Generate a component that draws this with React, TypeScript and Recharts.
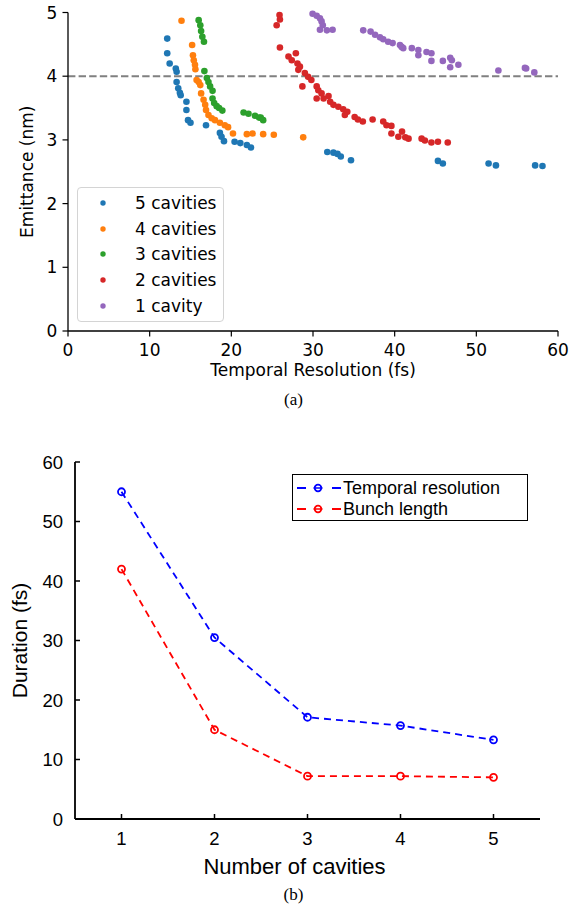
import {
  ScatterChart,
  Scatter,
  LineChart,
  Line,
  XAxis,
  YAxis,
  ReferenceLine,
  Legend,
} from "recharts";

// (a) emittance vs temporal resolution, one array per cavity count: [fs, nm]
const fiveCavities = [
  [12.15, 4.59], [12.15, 4.36], [12.45, 4.2], [13.2, 4.12], [13.3, 4.07], [13.3, 3.91],
  [13.5, 3.81], [13.7, 3.74], [13.8, 3.7], [14.5, 3.6], [14.5, 3.47], [14.7, 3.31],
  [15.0, 3.27], [16.9, 3.23], [18.6, 3.11], [18.8, 3.05], [19.1, 2.98], [20.4, 2.97],
  [21.1, 2.95], [21.9, 2.92], [22.4, 2.88], [31.75, 2.81], [32.5, 2.8], [33.0, 2.78],
  [33.4, 2.74], [34.65, 2.68], [45.3, 2.67], [45.9, 2.63], [51.5, 2.63], [52.4, 2.6],
  [57.2, 2.6], [58.1, 2.59],
];
const fourCavities = [
  [13.9, 4.87], [15.2, 4.49], [15.3, 4.33], [15.4, 4.25], [15.55, 4.18], [15.6, 4.11],
  [15.75, 3.94], [16.0, 3.91], [16.2, 3.86], [16.3, 3.73], [16.6, 3.63], [16.8, 3.55],
  [16.9, 3.47], [17.2, 3.39], [17.6, 3.34], [18.0, 3.31], [18.6, 3.27], [19.2, 3.23],
  [19.6, 3.2], [20.2, 3.1], [21.9, 3.09], [22.6, 3.1], [23.9, 3.09], [25.2, 3.08],
  [28.8, 3.04],
];
const threeCavities = [
  [16.0, 4.88], [16.2, 4.8], [16.3, 4.71], [16.45, 4.62], [16.65, 4.54], [16.7, 4.08],
  [17.0, 3.97], [17.2, 3.91], [17.4, 3.84], [17.7, 3.77], [17.7, 3.65], [17.9, 3.58],
  [18.2, 3.53], [18.5, 3.5], [18.9, 3.46], [21.5, 3.43], [22.1, 3.41], [22.9, 3.38],
  [23.4, 3.35], [23.6, 3.35], [23.9, 3.31],
];
const twoCavities = [
  [25.9, 4.96], [25.95, 4.89], [25.55, 4.8], [25.95, 4.45], [27.9, 4.36], [27.0, 4.31],
  [27.4, 4.25], [28.1, 4.2], [28.4, 4.15], [28.2, 4.1], [29.0, 4.05], [29.4, 3.99],
  [29.8, 3.94], [28.7, 3.84], [30.45, 3.84], [30.65, 3.78], [31.05, 3.73], [31.9, 3.69],
  [30.45, 3.65], [31.3, 3.65], [32.1, 3.6], [32.5, 3.55], [33.1, 3.52], [33.7, 3.48],
  [34.2, 3.44], [33.9, 3.39], [35.1, 3.36], [35.5, 3.32], [36.1, 3.29], [37.3, 3.32],
  [38.6, 3.29], [39.0, 3.23], [39.6, 3.22], [39.6, 3.1], [40.45, 3.05], [41.3, 3.04],
  [40.9, 3.13], [41.7, 3.02], [43.3, 3.02], [43.7, 2.99], [44.5, 2.96], [45.3, 2.97],
  [46.5, 2.96],
];
const oneCavity = [
  [29.95, 4.98], [30.45, 4.95], [30.85, 4.91], [31.05, 4.86], [31.2, 4.8], [30.85, 4.73],
  [31.7, 4.72], [32.4, 4.73], [36.15, 4.72], [37.05, 4.7], [37.6, 4.65], [38.2, 4.61],
  [38.6, 4.58], [39.2, 4.54], [39.75, 4.52], [40.65, 4.49], [41.05, 4.44], [40.85, 4.46],
  [42.1, 4.44], [42.9, 4.41], [42.9, 4.33], [43.9, 4.38], [44.5, 4.36], [44.5, 4.24],
  [45.9, 4.24], [46.8, 4.29], [47.0, 4.25], [46.8, 4.14], [47.8, 4.18], [52.7, 4.09],
  [55.95, 4.13], [56.1, 4.12], [57.1, 4.06],
];
const emittanceLimit = 4;
const resolutionTicks = [0, 10, 20, 30, 40, 50, 60];
const emittanceTicks = [0, 1, 2, 3, 4, 5];

// (b) duration vs number of cavities
const cavityCounts = [1, 2, 3, 4, 5];
const temporalResolution = [55, 30.5, 17.1, 15.7, 13.3];
const bunchLength = [42, 15, 7.2, 7.2, 7.0];
const durationTicks = [0, 10, 20, 30, 40, 50, 60];

const series = [
  { name: "5 cavities", color: "#1f77b4", points: fiveCavities },
  { name: "4 cavities", color: "#ff7f0e", points: fourCavities },
  { name: "3 cavities", color: "#2ca02c", points: threeCavities },
  { name: "2 cavities", color: "#d62728", points: twoCavities },
  { name: "1 cavity", color: "#9467bd", points: oneCavity },
];

const durationData = cavityCounts.map((c, i) => ({
  cavities: c,
  temporal: temporalResolution[i],
  bunch: bunchLength[i],
}));

const TopLegend = () => (
  <div
    style={{
      boxSizing: "border-box",
      width: 147,
      height: 135,
      border: "1px solid #d4d4d4",
      borderRadius: 4,
      background: "rgba(255,255,255,0.8)",
      paddingTop: 2,
      fontSize: 17,
      color: "#000",
    }}
  >
    {series.map((s) => (
      <div key={s.name} style={{ display: "flex", alignItems: "center", height: 25.75 }}>
        <svg width={57} height={10}>
          <circle cx={25} cy={5} r={2.7} fill={s.color} />
        </svg>
        <span style={{ whiteSpace: "nowrap" }}>{s.name}</span>
      </div>
    ))}
  </div>
);

const bottomItems = [
  { name: "Temporal resolution", color: "#0000ff" },
  { name: "Bunch length", color: "#ff0000" },
];

const BottomLegend = () => (
  <div
    style={{
      boxSizing: "border-box",
      width: 236,
      height: 47,
      border: "1.5px solid #000",
      background: "#fff",
      paddingTop: 2.5,
      fontSize: 18,
      color: "#000",
    }}
  >
    {bottomItems.map((s) => (
      <div key={s.name} style={{ display: "flex", alignItems: "center", height: 21 }}>
        <svg width={50} height={12}>
          <line x1={4} x2={13} y1={6} y2={6} stroke={s.color} strokeWidth={2} />
          <circle cx={25} cy={6} r={3.3} fill="none" stroke={s.color} strokeWidth={1.8} />
          <line x1={20.5} x2={29.5} y1={6} y2={6} stroke={s.color} strokeWidth={1.5} />
          <line x1={39} x2={48} y1={6} y2={6} stroke={s.color} strokeWidth={2} />
        </svg>
        <span style={{ whiteSpace: "nowrap" }}>{s.name}</span>
      </div>
    ))}
  </div>
);

const topTick = { fontSize: 17, fill: "#000" };
const bottomTick = { fontSize: 18.5, fill: "#000" };

export default function App() {
  return (
    <div style={{ position: "absolute", left: 0, top: 0, width: 587, height: 907, background: "#fff" }}>
      <div style={{ position: "absolute", left: 0, top: 0, fontFamily: "DejaVu Sans" }}>
        <ScatterChart width={587} height={390} margin={{ top: 12.5, right: 29, bottom: 9, left: 0 }}>
          <XAxis
            type="number"
            dataKey="x"
            domain={[0, 60]}
            ticks={resolutionTicks}
            height={50}
            tick={topTick}
            tickSize={5.5}
            tickMargin={7}
            stroke="#000"
            axisLine={{ stroke: "#000", strokeWidth: 1.3 }}
            tickLine={{ stroke: "#000", strokeWidth: 1.2 }}
            label={{ value: "Temporal Resolution (fs)", position: "insideBottom", offset: 5, fill: "#000", fontSize: 17 }}
          />
          <XAxis
            xAxisId="top"
            orientation="top"
            type="number"
            domain={[0, 60]}
            height={0}
            tick={false}
            tickLine={false}
            axisLine={{ stroke: "#000", strokeWidth: 1.3 }}
          />
          <YAxis
            type="number"
            dataKey="y"
            domain={[0, 5]}
            ticks={emittanceTicks}
            width={68}
            tick={topTick}
            tickSize={5.5}
            tickMargin={5.2}
            axisLine={{ stroke: "#000", strokeWidth: 1.3 }}
            tickLine={{ stroke: "#000", strokeWidth: 1.2 }}
            label={{
              value: "Emittance (nm)",
              angle: -90,
              position: "insideLeft",
              offset: 27,
              fill: "#000",
              fontSize: 17,
              style: { textAnchor: "middle" },
            }}
          />
          <YAxis
            yAxisId="right"
            orientation="right"
            type="number"
            domain={[0, 5]}
            width={0}
            tick={false}
            tickLine={false}
            axisLine={{ stroke: "#000", strokeWidth: 1.3 }}
          />
          <ReferenceLine y={emittanceLimit} stroke="#808080" strokeWidth={2} strokeDasharray="7.4 3.2" />
          {series.map((s) => (
            <Scatter
              key={s.name}
              name={s.name}
              data={s.points.map(([x, y]) => ({ x, y }))}
              isAnimationActive={false}
              shape={(p: any) => <circle cx={p.cx} cy={p.cy} r={3.3} fill={s.color} />}
            />
          ))}
          <Legend
            layout="vertical"
            align="center"
            verticalAlign="middle"
            width={147}
            height={135}
            wrapperStyle={{ left: 77, top: 187 }}
            content={() => <TopLegend />}
          />
        </ScatterChart>
      </div>
      <div
        style={{
          position: "absolute",
          left: 0,
          top: 390,
          width: 587,
          textAlign: "center",
          fontFamily: "Liberation Serif",
          fontSize: 17,
          lineHeight: "20px",
        }}
      >
        (a)
      </div>

      <div style={{ position: "absolute", left: 0, top: 440, fontFamily: "Liberation Sans" }}>
        <LineChart width={587} height={440} data={durationData} margin={{ top: 22, right: 47, bottom: 0, left: 0 }}>
          <XAxis
            type="number"
            dataKey="cavities"
            domain={[0.5, 5.5]}
            ticks={cavityCounts}
            height={61}
            tick={bottomTick}
            tickSize={-5}
            tickMargin={18}
            axisLine={{ stroke: "#000", strokeWidth: 1.8 }}
            tickLine={{ stroke: "#000", strokeWidth: 1.5 }}
            label={{ value: "Number of cavities", position: "insideBottom", offset: 6, dx: -13, fill: "#000", fontSize: 22 }}
          />
          <XAxis
            xAxisId="top"
            orientation="top"
            type="number"
            domain={[0.5, 5.5]}
            ticks={cavityCounts}
            height={0}
            tick={false}
            tickSize={-5}
            axisLine={{ stroke: "#000", strokeWidth: 1.8 }}
            tickLine={{ stroke: "#000", strokeWidth: 1.5 }}
          />
          <YAxis
            type="number"
            domain={[0, 60]}
            ticks={durationTicks}
            width={75}
            tick={bottomTick}
            tickSize={-5}
            tickMargin={17}
            axisLine={{ stroke: "#000", strokeWidth: 1.8 }}
            tickLine={{ stroke: "#000", strokeWidth: 1.5 }}
            label={{
              value: "Duration (fs)",
              angle: -90,
              position: "insideLeft",
              offset: 20,
              fill: "#000",
              fontSize: 21,
              style: { textAnchor: "middle" },
            }}
          />
          <YAxis
            yAxisId="right"
            orientation="right"
            type="number"
            domain={[0, 60]}
            ticks={durationTicks}
            width={0}
            tick={false}
            tickSize={-5}
            axisLine={{ stroke: "#000", strokeWidth: 1.8 }}
            tickLine={{ stroke: "#000", strokeWidth: 1.5 }}
          />
          <Line
            type="linear"
            dataKey="temporal"
            name="Temporal resolution"
            stroke="#0000ff"
            strokeWidth={1.8}
            strokeDasharray="7 5"
            dot={{ r: 3.5, stroke: "#0000ff", strokeWidth: 1.8, fill: "none", strokeDasharray: "none" }}
            isAnimationActive={false}
          />
          <Line
            type="linear"
            dataKey="bunch"
            name="Bunch length"
            stroke="#ff0000"
            strokeWidth={1.8}
            strokeDasharray="7 5"
            dot={{ r: 3.5, stroke: "#ff0000", strokeWidth: 1.8, fill: "none", strokeDasharray: "none" }}
            isAnimationActive={false}
          />
          <Legend
            layout="vertical"
            align="center"
            verticalAlign="middle"
            width={236}
            height={47}
            wrapperStyle={{ left: 292, top: 34 }}
            content={() => <BottomLegend />}
          />
        </LineChart>
      </div>
      <div
        style={{
          position: "absolute",
          left: 0,
          top: 885,
          width: 587,
          textAlign: "center",
          fontFamily: "Liberation Serif",
          fontSize: 17,
          lineHeight: "20px",
        }}
      >
        (b)
      </div>
    </div>
  );
}
